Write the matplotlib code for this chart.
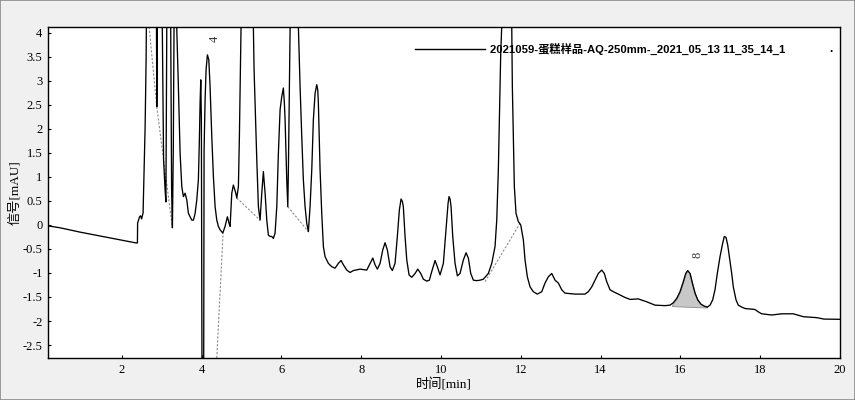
import numpy as np
import matplotlib
matplotlib.use("Agg")
import matplotlib.pyplot as plt
from matplotlib.lines import Line2D
from matplotlib.patches import Rectangle

plt.rcParams['axes.unicode_minus'] = False

# ---- data: chromatogram trace (time [min], signal [mAU]) ----
time_min = [
    0.153, 0.454, 0.955, 1.456, 1.957, 2.358, 2.391, 2.396, 2.446, 2.471, 2.496, 2.533, 2.559, 2.584, 2.609,
    2.659, 2.759, 2.864, 2.877, 2.892, 2.947, 3.010, 3.047, 3.085, 3.105, 3.127, 3.172, 3.223, 3.248, 3.268,
    3.290, 3.310, 3.348, 3.378, 3.418, 3.461, 3.503, 3.543, 3.586, 3.629, 3.669, 3.711, 3.754, 3.794, 3.837,
    3.879, 3.919, 3.944, 3.962, 3.979, 3.994, 4.012, 4.050, 4.062, 4.087, 4.112, 4.145, 4.180, 4.212, 4.255,
    4.295, 4.338, 4.380, 4.420, 4.463, 4.531, 4.588, 4.646, 4.689, 4.714, 4.756, 4.796, 4.857, 4.882, 4.922,
    4.947, 4.972, 4.989, 5.089, 5.215, 5.297, 5.315, 5.340, 5.383, 5.423, 5.465, 5.508, 5.548, 5.591, 5.633,
    5.673, 5.716, 5.759, 5.799, 5.841, 5.884, 5.924, 5.967, 6.009, 6.049, 6.074, 6.092, 6.134, 6.160, 6.175,
    6.200, 6.217, 6.317, 6.425, 6.443, 6.468, 6.510, 6.550, 6.593, 6.636, 6.676, 6.718, 6.761, 6.801, 6.844,
    6.886, 6.911, 6.926, 6.969, 7.011, 7.052, 7.094, 7.177, 7.262, 7.345, 7.428, 7.495, 7.553, 7.638, 7.721,
    7.803, 7.971, 8.139, 8.222, 8.290, 8.347, 8.405, 8.473, 8.540, 8.598, 8.655, 8.723, 8.781, 8.848, 8.906,
    8.956, 8.999, 9.031, 9.056, 9.099, 9.142, 9.199, 9.267, 9.350, 9.417, 9.492, 9.558, 9.643, 9.708, 9.768,
    9.851, 9.908, 9.976, 10.059, 10.126, 10.177, 10.201, 10.227, 10.252, 10.294, 10.352, 10.410, 10.477, 10.560, 10.628,
    10.685, 10.745, 10.811, 10.896, 10.978, 11.061, 11.186, 11.272, 11.354, 11.397, 11.437, 11.462, 11.497, 11.522, 11.630,
    11.773, 11.788, 11.813, 11.838, 11.880, 11.938, 11.998, 12.064, 12.106, 12.164, 12.232, 12.314, 12.414, 12.525, 12.607,
    12.690, 12.775, 12.858, 12.941, 13.026, 13.108, 13.359, 13.609, 13.692, 13.778, 13.860, 13.943, 14.028, 14.093, 14.153,
    14.236, 14.319, 14.444, 14.612, 14.737, 14.945, 15.156, 15.364, 15.614, 15.739, 15.822, 15.907, 15.990, 16.073, 16.133,
    16.183, 16.241, 16.299, 16.366, 16.434, 16.516, 16.599, 16.674, 16.742, 16.809, 16.867, 16.925, 16.993, 17.060, 17.100,
    17.143, 17.186, 17.226, 17.286, 17.326, 17.394, 17.451, 17.536, 17.619, 17.869, 17.952, 18.038, 18.288, 18.539, 18.829,
    19.080, 19.416, 19.599, 20.017,
]
signal_mau = [
    -0.02, -0.06, -0.15, -0.23, -0.31, -0.375, -0.375, 0.04, 0.17, 0.19, 0.125, 0.25, 1.15, 2.04, 3.44,
    9.0, 12.0, 5.0, 2.46, 4.6, 8.0, 4.5, 1.35, 0.73, 0.48, 4.5, 7.0, 4.5, 0.73, -0.06,
    1.56, 4.5, 7.0, 4.06, 2.88, 1.49, 0.80, 0.59, 0.66, 0.52, 0.24, 0.17, 0.10, 0.10, 0.24,
    0.52, 0.94, 1.77, 2.54, 3.02, 2.19, -4.0, -4.0, 1.56, 2.60, 3.23, 3.54, 3.44, 2.88, 1.84,
    1.01, 0.38, 0.10, -0.03, -0.10, -0.17, -0.03, 0.17, 0.03, -0.03, 0.66, 0.83, 0.66, 0.56, 0.80,
    1.84, 3.23, 4.13, 10.0, 10.0, 4.13, 3.23, 2.54, 1.35, 0.38, 0.10, 0.66, 1.11, 0.66, 0.10,
    -0.21, -0.24, -0.24, -0.28, -0.17, 0.38, 1.49, 2.40, 2.67, 2.85, 2.54, 2.19, 0.94, 0.38, 1.15,
    2.88, 4.13, 10.0, 4.13, 3.58, 2.88, 1.84, 0.94, 0.38, 0.03, -0.14, 0.38, 1.15, 2.19, 2.74,
    2.92, 2.81, 2.54, 1.15, 0.24, -0.45, -0.66, -0.80, -0.87, -0.90, -0.80, -0.74, -0.83, -0.94, -0.99,
    -0.95, -0.92, -0.94, -0.80, -0.69, -0.83, -0.92, -0.80, -0.52, -0.37, -0.52, -0.87, -0.95, -0.80, -0.24,
    0.31, 0.54, 0.49, 0.38, -0.24, -0.73, -1.04, -1.09, -1.01, -0.92, -1.01, -1.13, -1.17, -1.15, -0.97,
    -0.74, -0.87, -1.04, -0.80, -0.10, 0.45, 0.59, 0.54, 0.38, -0.24, -0.80, -1.06, -1.01, -0.73, -0.58,
    -0.69, -1.01, -1.15, -1.16, -1.15, -1.13, -1.01, -0.80, -0.45, 0.10, 1.15, 2.19, 3.58, 4.13, 20.0,
    4.13, 2.88, 1.84, 0.80, 0.24, 0.07, 0.00, -0.31, -0.73, -1.08, -1.29, -1.39, -1.44, -1.39, -1.21,
    -1.08, -1.01, -1.15, -1.21, -1.35, -1.42, -1.44, -1.44, -1.39, -1.29, -1.15, -1.01, -0.94, -1.01, -1.18,
    -1.35, -1.39, -1.44, -1.51, -1.55, -1.54, -1.60, -1.67, -1.68, -1.67, -1.62, -1.53, -1.39, -1.18, -1.01,
    -0.95, -1.01, -1.21, -1.42, -1.56, -1.65, -1.69, -1.71, -1.67, -1.56, -1.35, -1.01, -0.66, -0.38, -0.24,
    -0.26, -0.42, -0.66, -1.01, -1.29, -1.56, -1.67, -1.71, -1.74, -1.76, -1.81, -1.85, -1.875, -1.85, -1.85,
    -1.91, -1.93, -1.96, -1.965,
]

# integration baselines (start time, start value, end time, end value)
base_t0 = [2.684, 2.877, 4.380, 4.882, 6.160, 11.104]
base_y0 = [4.12, 2.46, -2.77, 0.56, 0.38, -1.18]
base_t1 = [2.877, 3.268, 4.538, 5.465, 6.676, 11.980]
base_y1 = [2.46, -0.06, -0.17, 0.10, -0.14, 0.035]

# shaded peak 8 baseline
shade_t = [15.79, 16.67]
shade_y = [-1.69, -1.72]

peak_labels = ["4", "8"]
peak_label_t = [4.32, 16.42]
peak_label_y = [3.88, -0.62]

x_ticks = [2, 4, 6, 8, 10, 12, 14, 16, 18, 20]
y_ticks = [-2.5, -2, -1.5, -1, -0.5, 0, 0.5, 1, 1.5, 2, 2.5, 3, 3.5, 4]
series_name = "2021059-蛋糕样品-AQ-250mm-_2021_05_13 11_35_14_1"

# ---- figure ----
fig = plt.figure(figsize=(8.55, 4.0), dpi=100, facecolor="#f0f0f0")
fig.patches.append(Rectangle((0, 0), 1, 1, transform=fig.transFigure, fill=False,
                             edgecolor="#8a8a8a", linewidth=1.2))
ax = fig.add_axes([48 / 855, 42 / 400, 792 / 855, 331 / 400])
ax.set_facecolor("white")

t = np.array(time_min)
s = np.array(signal_mau)
ax.plot(t, s, color="black", linewidth=0.95, zorder=3)

for a0, b0, a1, b1 in zip(base_t0, base_y0, base_t1, base_y1):
    ax.plot([a0, a1], [b0, b1], color="#8c8c8c", linewidth=0.8, linestyle=(0, (2, 1.5)), zorder=2)

mask = (t >= shade_t[0]) & (t <= shade_t[1])
ft = np.concatenate([[shade_t[0]], t[mask], [shade_t[1]]])
fs = np.concatenate([[shade_y[0] + 0.02], s[mask], [shade_y[1] + 0.02]])
fb = np.interp(ft, shade_t, shade_y)
ax.fill_between(ft, fb, fs, color="#c8c8c8", edgecolor="#8c8c8c", linewidth=0.6, zorder=2)

for lab, lt, ly in zip(peak_labels, peak_label_t, peak_label_y):
    ax.text(lt, ly, lab, rotation=90, ha="center", va="center", fontsize=9,
            family="Liberation Serif", color="#333333")

ax.set_xlim(0.15, 20.0)
ax.set_ylim(-2.77, 4.12)
ax.set_xticks(x_ticks)
ax.set_xticklabels([str(v) for v in x_ticks])
ax.set_yticks(y_ticks)
ax.set_yticklabels([("%g" % v) for v in y_ticks])
for lab in ax.get_xticklabels() + ax.get_yticklabels():
    lab.set_family("Liberation Serif")
    lab.set_fontsize(9)
ax.tick_params(direction="in", length=2, width=0.8, pad=4)
for sp in ax.spines.values():
    sp.set_linewidth(1.0)
    sp.set_color("black")

ax.set_xlabel("时间[min]", family=["Liberation Serif", "Noto Sans CJK SC"], fontsize=9.5, labelpad=2)
ax.set_ylabel("信号[mAU]", family=["Liberation Serif", "Noto Sans CJK SC"], fontsize=9.5, labelpad=1)

# legend
ax.add_line(Line2D([0.4634, 0.5518], [0.9335, 0.9335], transform=ax.transAxes, color="black", linewidth=1.0))
ax.text(0.558, 0.9335, series_name, transform=ax.transAxes, ha="left", va="center",
        fontsize=8.1, fontweight="bold", family=["Liberation Sans", "Noto Sans CJK SC"])
ax.text(0.987, 0.9335, ".", transform=ax.transAxes, ha="left", va="center",
        fontsize=8.5, fontweight="bold", family="Liberation Sans")

fig.savefig("out.png", dpi=100, facecolor=fig.get_facecolor())
